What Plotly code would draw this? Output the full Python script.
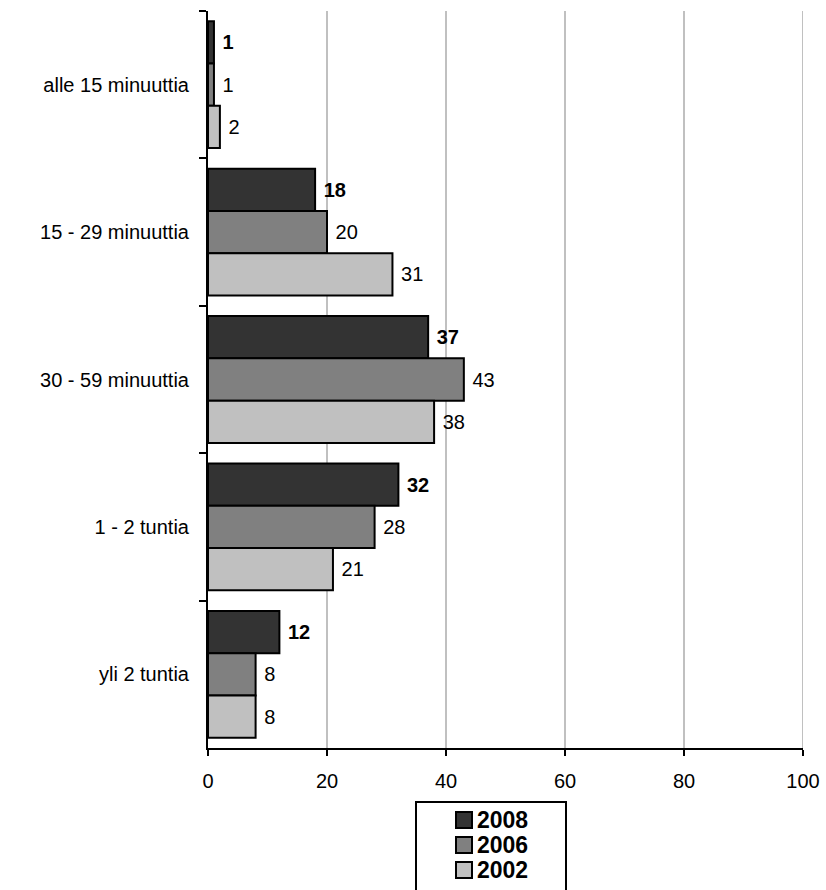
import plotly.graph_objects as go

categories = ["alle 15 minuuttia", "15 - 29 minuuttia", "30 - 59 minuuttia", "1 - 2 tuntia", "yli 2 tuntia"]
series_names = ["2008", "2006", "2002"]
values_2008 = [1, 18, 37, 32, 12]
values_2006 = [1, 20, 43, 28, 8]
values_2002 = [2, 31, 38, 21, 8]
x_ticks = [0, 20, 40, 60, 80, 100]

series_values = [values_2008, values_2006, values_2002]
colors = ["#333333", "#808080", "#C0C0C0"]
bold = [True, False, False]

FONT = "Arial, 'Liberation Sans', sans-serif"
W, H = 826, 890
ML, MR, MT, MB = 208, 23, 11, 142
PW = W - ML - MR
PH = H - MT - MB

def px(xp):
    return (xp - ML) / PW

def py(yp):
    return (H - MB - yp) / PH

fig = go.Figure()
for name, vals, col, b in zip(series_names, series_values, colors, bold):
    tmpl = "\u00a0<b>%{x}</b>" if b else "\u00a0%{x}"
    fig.add_trace(go.Bar(
        y=categories, x=vals, name=name, orientation="h",
        marker=dict(color=col, line=dict(color="black", width=2)),
        texttemplate=tmpl, textposition="outside",
        textfont=dict(family=FONT, size=20, color="black"),
        cliponaxis=False, showlegend=False, hoverinfo="skip",
    ))

fig.update_layout(
    width=W, height=H,
    margin=dict(l=ML, r=MR, t=MT, b=MB, autoexpand=False),
    barmode="group", bargap=0.14, bargroupgap=0,
    plot_bgcolor="white", paper_bgcolor="white",
    font=dict(family=FONT, size=20, color="black"),
    showlegend=False,
    xaxis=dict(
        range=[x_ticks[0], x_ticks[-1]], tickvals=x_ticks, showgrid=True, gridcolor="#C0C0C0", gridwidth=2,
        zeroline=False, showline=True, linecolor="black", linewidth=2,
        ticks="outside", ticklen=6, tickwidth=2, tickcolor="black",
        ticklabelstandoff=8,
        tickfont=dict(size=20, family=FONT, color="black"),
    ),
    yaxis=dict(
        type="category", autorange="reversed", showline=True, linecolor="black", linewidth=2,
        ticks="outside", tickson="boundaries", ticklen=7, tickwidth=2, tickcolor="black",
        ticklabelstandoff=13,
        showgrid=False, tickfont=dict(size=20, family=FONT, color="black"),
    ),
)

# gridline at the right end of the x range
shapes = [dict(type="line", xref="x", yref="paper", x0=x_ticks[-1], x1=x_ticks[-1], y0=0, y1=1,
               line=dict(color="#C0C0C0", width=2), layer="below")]
# legend box
shapes.append(dict(type="rect", xref="paper", yref="paper",
                   x0=px(416), x1=px(566), y0=py(802), y1=py(900),
                   line=dict(color="black", width=2), fillcolor="white", layer="above"))
annotations = []
row_y = [820, 845, 870]
for name, col, ry in zip(series_names, colors, row_y):
    shapes.append(dict(type="rect", xref="paper", yref="paper",
                       x0=px(456), x1=px(472), y0=py(ry + 8), y1=py(ry - 8),
                       line=dict(color="black", width=2), fillcolor=col, layer="above"))
    annotations.append(dict(xref="paper", yref="paper", x=px(475), y=py(ry),
                            xanchor="left", yanchor="middle", showarrow=False,
                            text="<b>" + name + "</b>",
                            font=dict(family=FONT, size=23, color="black")))
fig.update_layout(shapes=shapes, annotations=annotations)

fig.write_html("out.html", config={"displayModeBar": False},
               post_script="document.body.style.margin='0';document.body.style.overflow='hidden';")
